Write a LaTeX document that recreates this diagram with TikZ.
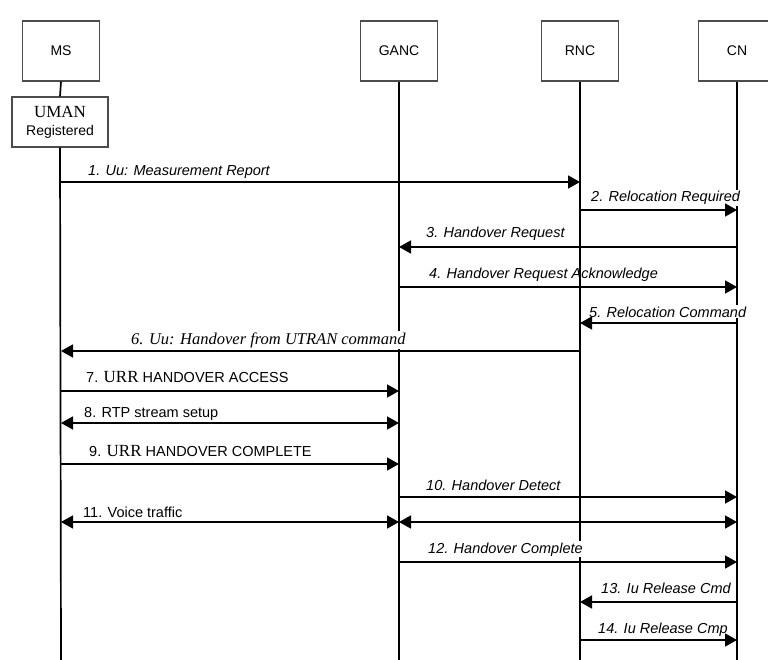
\documentclass[tikz,border=0pt]{standalone}
\usepackage{fontspec}
\setmainfont{Liberation Serif}
\setsansfont{Liberation Sans}
\usetikzlibrary{arrows.meta}

\begin{document}
\begin{tikzpicture}[x=1pt,y=-1pt]
    \tikzstyle{entity}=[draw=black!70, line width=1.3pt, fill=white,
        minimum width=77pt, minimum height=60pt,
        font=\fontsize{14}{16}\sffamily]
    \tikzstyle{life}=[line width=1.7pt]
    \tikzstyle{msg}=[line width=1.7pt, -{Triangle[length=12pt,width=13pt]}]
    \tikzstyle{both}=[line width=1.7pt,
        {Triangle[length=12pt,width=13pt]}-{Triangle[length=12pt,width=13pt]}]
    \tikzstyle{lbl}=[anchor=base west, inner sep=1pt, fill=white,
        font=\fontsize{14.5}{16}\sffamily\itshape]
    \tikzstyle{plain}=[lbl, font=\fontsize{14.5}{16}\sffamily]

    \newcommand{\urr}{{\fontsize{17}{18}\rmfamily URR}}

    \useasboundingbox (0,0) rectangle (768,660);

    \node[entity] (ms) at (61,51) {MS};
    \node[entity] (ganc) at (399,51) {GANC};
    \node[entity] (rnc) at (580,51) {RNC};
    \node[entity] (cn) at (737,51) {CN};
    \node[entity, minimum width=96pt, minimum height=50pt, align=center,
        font=\fontsize{14}{18}\sffamily] (uman) at (60,122)
        {{\fontsize{17}{18}\rmfamily UMAN}\\Registered};

    \draw[life] (ms.south) -- (uman.north);
    \draw[life] (uman.south) -- (ms |- 0,660);
    \draw[life] (ganc.south) -- (ganc |- 0,660);
    \draw[life] (rnc.south) -- (rnc |- 0,660);
    \draw[life] (cn.south) -- (cn |- 0,660);

    \node[lbl] (l1) at (87,176) {1. Uu: Measurement Report};
    \node[lbl] (l2) at (590,202) {2. Relocation Required};
    \node[lbl] (l3) at (425,238) {3. Handover Request};
    \node[lbl, fill=none] (l4) at (428,279) {4. Handover Request Acknowledge};
    \node[lbl] (l5) at (588,317) {5. Relocation Command};
    \node[lbl, font=\fontsize{16.5}{18}\rmfamily\itshape] (l6) at (130,344)
        {6. Uu: Handover from UTRAN command};
    \node[plain] (l7) at (85,382) {7. \urr{} HANDOVER ACCESS};
    \node[plain] (l8) at (83,417) {8. RTP stream setup};
    \node[plain] (l9) at (88,456) {9. \urr{} HANDOVER COMPLETE};
    \node[lbl] (l10) at (425,490) {10. Handover Detect};
    \node[plain] (l11) at (82,517) {11. Voice traffic};
    \node[lbl] (l12) at (427,553) {12. Handover Complete};
    \node[lbl] (l13) at (600,593) {13. Iu Release Cmd};
    \node[lbl] (l14) at (597,633) {14. Iu Release Cmp};

    \draw[msg] (ms |- 0,182) -- (rnc |- 0,182);
    \draw[msg] (rnc |- 0,210) -- (cn |- 0,210);
    \draw[msg] (cn |- 0,247) -- (ganc |- 0,247);
    \draw[msg] (ganc |- 0,287) -- (cn |- 0,287);
    \draw[msg] (cn |- 0,323) -- (rnc |- 0,323);
    \draw[msg] (rnc |- 0,351) -- (ms |- 0,351);
    \draw[msg] (ms |- 0,391) -- (ganc |- 0,391);
    \draw[both] (ms |- 0,423) -- (ganc |- 0,423);
    \draw[msg] (ms |- 0,464) -- (ganc |- 0,464);
    \draw[msg] (ganc |- 0,497) -- (cn |- 0,497);
    \draw[both] (ms |- 0,522) -- (ganc |- 0,522);
    \draw[both] (ganc |- 0,522) -- (cn |- 0,522);
    \draw[msg] (ganc |- 0,562) -- (cn |- 0,562);
    \draw[msg] (cn |- 0,602) -- (rnc |- 0,602);
    \draw[msg] (rnc |- 0,640) -- (cn |- 0,640);
\end{tikzpicture}
\end{document}
